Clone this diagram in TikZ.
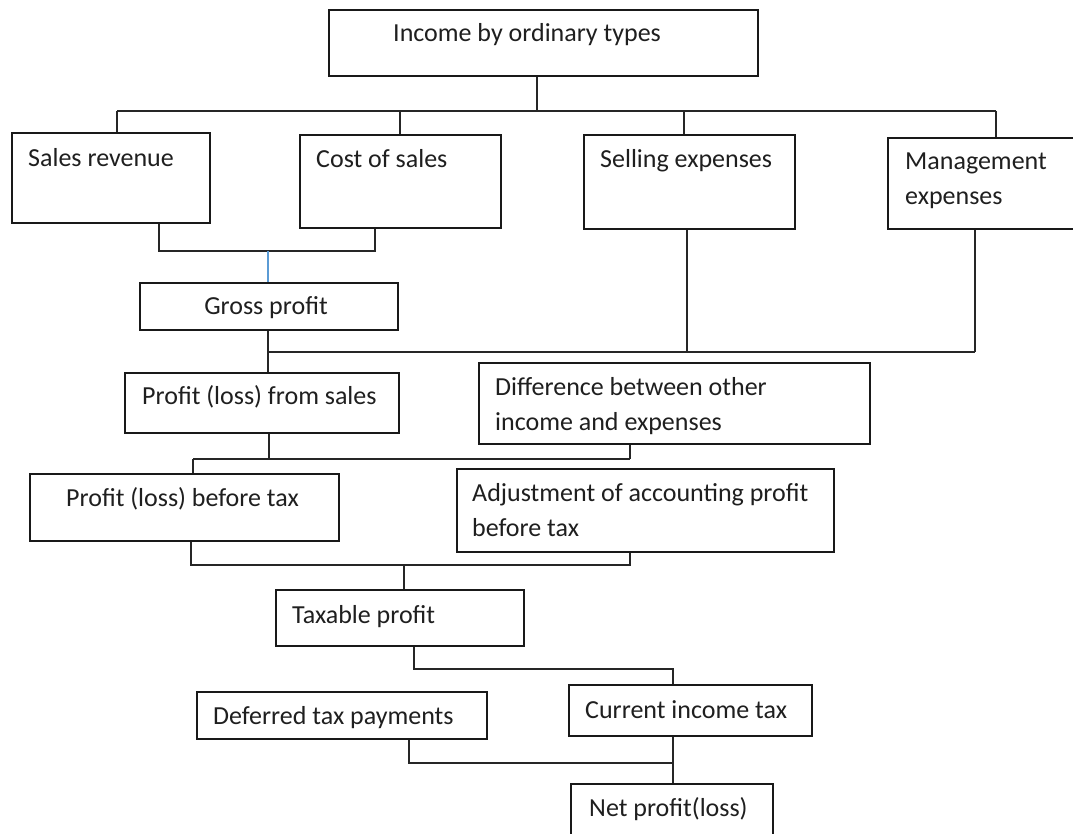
\documentclass[tikz,border=0pt]{standalone}
\usepackage{fontspec}
\setmainfont{Carlito}
\begin{document}
\begin{tikzpicture}[x=1pt,y=-1pt,
  box/.style={draw=black!90, line width=1.6pt, inner sep=0pt, anchor=north west},
  txt/.style={anchor=base west, inner sep=0pt, text=black!88, font=\fontsize{26}{35}\selectfont},
  ctxt/.style={anchor=base, inner sep=0pt, text=black!88, font=\fontsize{26}{35}\selectfont},
  ln/.style={draw=black!85, line width=1.5pt},
  blueln/.style={draw={rgb,255:red,91;green,155;blue,213}, line width=1.5pt}]
\useasboundingbox (0,0) rectangle (1073,834);
\fill[white] (0,0) rectangle (1073,834);

% boxes: name, x1, y1, x2, y2
\newcommand\mkbox[5]{\node[box, minimum width={(#4-#2)*1pt}, minimum height={(#5-#3)*1pt}] (#1) at (#2,#3) {};}
\mkbox{top}{328}{9}{757}{75}
\mkbox{sr}{11}{132}{209}{222}
\mkbox{cs}{299}{134}{500}{227}
\mkbox{se}{583}{134}{794}{228}
\mkbox{me}{887}{137}{1090}{228}
\mkbox{gp}{139}{282}{397}{329}
\mkbox{pfs}{124}{372}{398}{432}
\mkbox{diff}{478}{362}{869}{443}
\mkbox{pbt}{29}{473}{338}{540}
\mkbox{adj}{456}{468}{833}{551}
\mkbox{tp}{275}{589}{523}{645}
\mkbox{dtp}{196}{691}{486}{738}
\mkbox{cit}{568}{684}{811}{735}
\mkbox{nep}{570}{783}{772}{850}

% texts
\node[txt] (ttop) at (393,42) {Income by ordinary types};
\node[txt] (tsr) at (28,167) {Sales revenue};
\node[txt] (tcs) at (316,168) {Cost of sales};
\node[txt] (tse) at (600,168) {Selling expenses};
\node[txt] (tme1) at (905,170) {Management};
\node[txt] (tme2) at (905,205) {expenses};
\node[ctxt] (tgp) at (266,314) {Gross profit};
\node[txt] (tpfs) at (142,404) {Profit (loss) from sales};
\node[txt] (tdiff1) at (495,395) {Difference between other};
\node[txt] (tdiff2) at (495,430) {income and expenses};
\node[txt] (tpbt) at (66,506) {Profit (loss) before tax};
\node[txt] (tadj1) at (472,501) {Adjustment of accounting profit};
\node[txt] (tadj2) at (472,536) {before tax};
\node[txt] (ttp) at (292,623) {Taxable profit};
\node[txt] (tdtp) at (213,724) {Deferred tax payments};
\node[txt] (tcit) at (585,718) {Current income tax};
\node[txt] (tnep) at (589,816) {Net profit(loss)};

% junction coordinates
\coordinate (j1) at (537,111);
\coordinate (j1a) at (117,111);
\coordinate (j1b) at (400,111);
\coordinate (j1c) at (684,111);
\coordinate (j1d) at (996,111);
\coordinate (j2a) at (159,251);
\coordinate (j2b) at (375,251);
\coordinate (j2c) at (268,251);
\coordinate (j3a) at (268,352);
\coordinate (j3b) at (687,352);
\coordinate (j3c) at (975,352);
\coordinate (j4a) at (269,459);
\coordinate (j4b) at (193,459);
\coordinate (j4c) at (630,459);
\coordinate (j5a) at (191,565);
\coordinate (j5b) at (630,565);
\coordinate (j5c) at (404,565);
\coordinate (j6a) at (414,669);
\coordinate (j6b) at (673,669);
\coordinate (j7a) at (409,763);
\coordinate (j7b) at (673,763);

% connectors
\draw[ln] (top.south -| j1) -- (j1);
\draw[ln] (j1a) -- (j1d);
\draw[ln] (j1a) -- (sr.north -| j1a);
\draw[ln] (j1b) -- (cs.north -| j1b);
\draw[ln] (j1c) -- (se.north -| j1c);
\draw[ln] (j1d) -- (me.north -| j1d);

\draw[ln] (sr.south -| j2a) -- (j2a) -- (j2b) -- (cs.south -| j2b);
\draw[blueln] (j2c) -- (gp.north -| j2c);

\draw[ln] (gp.south -| j3a) -- (pfs.north -| j3a);
\draw[ln] (j3a) -- (j3c);
\draw[ln] (se.south -| j3b) -- (j3b);
\draw[ln] (me.south -| j3c) -- (j3c);

\draw[ln] (pfs.south -| j4a) -- (j4a);
\draw[ln] (j4b) -- (j4c);
\draw[ln] (j4b) -- (pbt.north -| j4b);
\draw[ln] (diff.south -| j4c) -- (j4c);

\draw[ln] (pbt.south -| j5a) -- (j5a) -- (j5b) -- (adj.south -| j5b);
\draw[ln] (j5c) -- (tp.north -| j5c);

\draw[ln] (tp.south -| j6a) -- (j6a) -- (j6b) -- (cit.north -| j6b);

\draw[ln] (dtp.south -| j7a) -- (j7a) -- (j7b);
\draw[ln] (cit.south -| j7b) -- (nep.north -| j7b);
\end{tikzpicture}
\end{document}
